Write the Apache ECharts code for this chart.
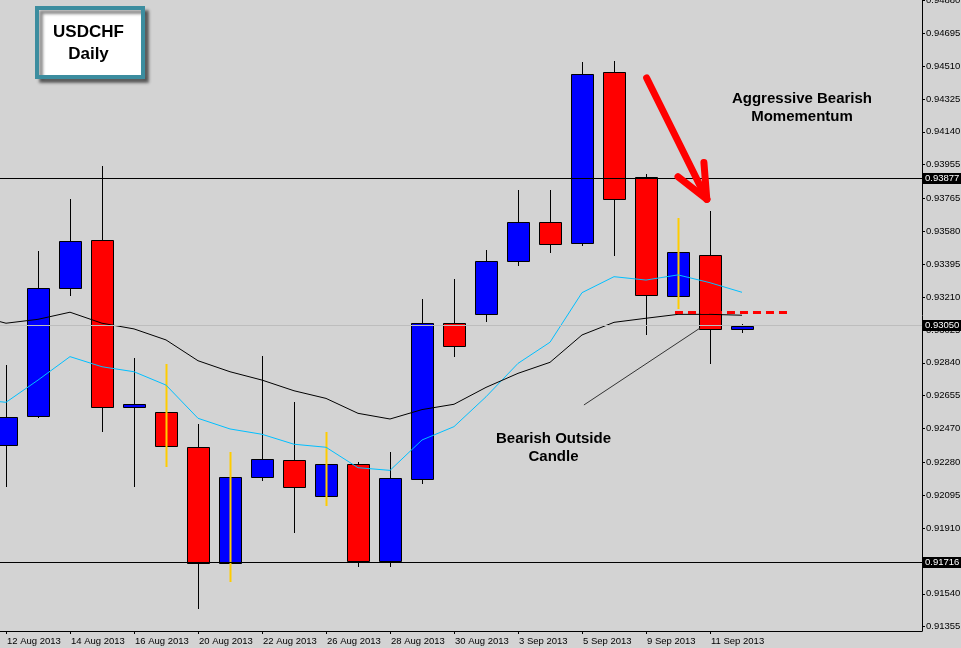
<!DOCTYPE html>
<html>
<head>
<meta charset="utf-8">
<script src="https://cdn.jsdelivr.net/npm/echarts@6/dist/echarts.min.js"></script>
<style>
html,body{margin:0;padding:0;background:#d3d3d3;}
#c{width:961px;height:648px;}
</style>
</head>
<body>
<div id="c"></div>
<script>
// ---- data (USDCHF daily) ----
const dates = ['9 Aug 2013','12 Aug 2013','13 Aug 2013','14 Aug 2013','15 Aug 2013','16 Aug 2013',
  '19 Aug 2013','20 Aug 2013','21 Aug 2013','22 Aug 2013','23 Aug 2013','26 Aug 2013','27 Aug 2013',
  '28 Aug 2013','29 Aug 2013','30 Aug 2013','2 Sep 2013','3 Sep 2013','4 Sep 2013','5 Sep 2013',
  '6 Sep 2013','9 Sep 2013','10 Sep 2013','11 Sep 2013','12 Sep 2013'];
const opens  = [null,0.92376,0.92539,0.93260,0.93530,0.92591,0.92562,0.92365,0.91712,0.92196,0.92291,0.92089,0.92269,
  0.91723,0.92184,0.93066,0.93113,0.93412,0.93631,0.93513,0.94475,0.93884,0.93218,0.93445,0.93029];
const closes = [null,0.92537,0.93260,0.93524,0.92590,0.92608,0.92370,0.91712,0.92196,0.92297,0.92139,0.92269,0.91723,
  0.92190,0.93066,0.92935,0.93412,0.93631,0.93507,0.94464,0.93761,0.93220,0.93462,0.93029,0.93050];
const highs  = [null,0.92828,0.93470,0.93762,0.93948,0.92866,0.92834,0.92496,0.92340,0.92879,0.92620,0.92452,0.92280,
  0.92336,0.93199,0.93312,0.93475,0.93813,0.93815,0.94532,0.94539,0.93901,0.93654,0.93695,0.93058];
const lows   = [null,0.92141,0.92530,0.93218,0.92452,0.92141,0.92255,0.91453,0.91605,0.92177,0.91881,0.92036,0.91689,
  0.91689,0.92156,0.92871,0.93072,0.93387,0.93460,0.93499,0.93443,0.92995,0.93141,0.92832,0.93010];
const slowMA = [0.93110,0.93063,0.93085,0.93125,0.93063,0.93031,0.92969,0.92852,0.92790,0.92743,0.92683,0.92640,0.92556,
  0.92524,0.92577,0.92607,0.92702,0.92781,0.92843,0.92997,0.93068,0.93091,0.93113,0.93113,0.93108];
const fastMA = [0.92636,0.92618,0.92743,0.92875,0.92818,0.92790,0.92715,0.92528,0.92468,0.92438,0.92382,0.92365,0.92250,
  0.92235,0.92406,0.92481,0.92649,0.92837,0.92956,0.93235,0.93325,0.93306,0.93335,0.93291,0.93237];
const yTickLabels = ['0.94880','0.94695','0.94510','0.94325','0.94140','0.93955','0.93765','0.93580','0.93395',
  '0.93210','0.93025','0.92840','0.92655','0.92470','0.92280','0.92095','0.91910','0.91725','0.91540','0.91355'];
const xLabelIndex = [1,3,5,7,9,11,13,15,17,19,21,23];
const levelLines = [0.93877, 0.91716];
const bidPrice = 0.93050;
// annotation anchors in (bar index, price)
const arrowShaft = [[21.02,0.94443],[22.90,0.93761]];
const arrowWingA = [[22.90,0.93761],[22.00,0.93888]];
const arrowWingB = [[22.90,0.93761],[22.81,0.93967]];
const dashedLevel = [[21.906,0.93125],[25.55,0.93125]];
const trendLine = [[19.06,0.92603],[22.69,0.93036]];
const noteMomentum = {x:25.875, y:0.94275, text:'Aggressive Bearish\nMomementum'};
const noteOutside = {x:18.11, y:0.92361, text:'Bearish Outside\nCandle'};

// ---- fonts ----
function hasFont(name) {
  const ctx = document.createElement('canvas').getContext('2d');
  const s = '0.94695 12 Aug 2013';
  ctx.font = '40px monospace';
  const a = ctx.measureText(s).width;
  ctx.font = '40px "' + name + '", monospace';
  return Math.abs(ctx.measureText(s).width - a) > 0.5;
}
const FONT = '"Liberation Sans", Arial, sans-serif';
const NARROW = hasFont('Liberation Sans Narrow');
const AXIS_FONT = NARROW ? '"Liberation Sans Narrow", "Liberation Sans", sans-serif' : FONT;
const AXIS_SIZE = NARROW ? 11 : 9.5;

// ---- build ----
const last = dates.length - 1;
const candles = [];
for (let k = 0; k < dates.length; k++) {
  if (opens[k] == null) continue;
  const inside = (k > 0 && k < last && highs[k-1] != null && highs[k] < highs[k-1] && lows[k] > lows[k-1]) ? 1 : 0;
  candles.push([k, opens[k], closes[k], lows[k], highs[k], inside]);
}

function renderCandle(params, api) {
  const i = api.value(0), o = api.value(1), c = api.value(2), lo = api.value(3), hi = api.value(4), inside = api.value(5);
  const pO = api.coord([i, o]), pC = api.coord([i, c]), pL = api.coord([i, lo]), pH = api.coord([i, hi]);
  const x = Math.round(pO[0]) + 0.5;
  const bw = Math.round(api.size([1, 0])[0] * 0.69);
  const top = Math.round(Math.min(pO[1], pC[1])) + 0.5;
  let bot = Math.round(Math.max(pO[1], pC[1])) + 0.5;
  if (bot - top < 2) bot = top + 2;
  const fill = c >= o ? '#0000ff' : '#ff0000';
  const children = [];
  if (!inside) children.push({type:'line', shape:{x1:x, y1:Math.round(pH[1]), x2:x, y2:Math.round(pL[1])}, style:{stroke:'#000', lineWidth:1}});
  children.push({type:'rect', shape:{x:x - bw/2, y:top, width:bw, height:bot-top}, style:{fill:fill, stroke:'#000', lineWidth:1}});
  if (inside) children.push({type:'line', shape:{x1:x, y1:Math.round(pH[1]), x2:x, y2:Math.round(pL[1])}, style:{stroke:'#ffcc00', lineWidth:2}});
  return {type:'group', children: children};
}

const boxLabel = {show:true, position:'end', distance:1, color:'#fff', backgroundColor:'#000',
  padding:[1,3,0,2], fontSize:AXIS_SIZE, fontFamily:AXIS_FONT};
const pair = (seg, style) => [{coord:seg[0], lineStyle:style, label:{show:false}}, {coord:seg[1]}];

const markLineData = [];
levelLines.forEach(v => markLineData.push({yAxis:v, lineStyle:{color:'#000', width:1, type:'solid'},
  label:Object.assign({formatter:v.toFixed(5)}, boxLabel)}));
markLineData.push(pair(dashedLevel, {color:'#ff0000', width:3, type:[8,5]}));
markLineData.push(pair(trendLine, {color:'#333', width:1, type:'solid'}));
markLineData.push(pair(arrowShaft, {color:'#ff0000', width:7, type:'solid', cap:'round'}));
markLineData.push(pair(arrowWingA, {color:'#ff0000', width:7, type:'solid', cap:'round'}));
markLineData.push(pair(arrowWingB, {color:'#ff0000', width:7, type:'solid', cap:'round'}));

const noteStyle = {show:true, position:'inside', color:'#000', fontSize:15, fontWeight:'bold', lineHeight:18,
  fontFamily:FONT, align:'center', formatter: p => p.name};

const chart = echarts.init(document.getElementById('c'), null, {renderer:'canvas'});
chart.setOption({
  animation:false,
  backgroundColor:'#d3d3d3',
  grid:{left:0, right:39, top:0, bottom:17, outerBoundsMode:'none'},
  xAxis:{
    type:'value', min:0.8125, max:29.625,
    axisLine:{show:true, onZero:false, lineStyle:{color:'#000', width:1}},
    axisTick:{show:true, customValues:xLabelIndex, length:3, lineStyle:{color:'#000'}},
    axisLabel:{customValues:xLabelIndex, formatter:v => dates[v], align:'left', margin:5,
      color:'#000', fontSize:AXIS_SIZE, fontFamily:AXIS_FONT, padding:[0,0,0,1]},
    splitLine:{show:false}
  },
  yAxis:{
    type:'value', position:'right', min:0.91331, max:0.94882,
    axisLine:{show:true, onZero:false, lineStyle:{color:'#000', width:1}},
    axisTick:{show:true, customValues:yTickLabels.map(Number), length:3, lineStyle:{color:'#000'}},
    axisLabel:{customValues:yTickLabels.map(Number), formatter:v => v.toFixed(5), margin:4,
      color:'#000', fontSize:AXIS_SIZE, fontFamily:AXIS_FONT},
    splitLine:{show:false}
  },
  series:[
    {type:'line', name:'Bid', data:[], z:1, symbol:'none',
      markLine:{silent:true, symbol:['none','none'], precision:5, animation:false,
        data:[{yAxis:bidPrice, lineStyle:{color:'#bdbdbd', width:1, type:'solid'},
          label:Object.assign({formatter:bidPrice.toFixed(5)}, boxLabel)}]}},
    {type:'custom', name:'USDCHF', renderItem:renderCandle, data:candles, clip:true, z:2,
      encode:{x:0, y:[1,2,3,4]}},
    {type:'line', name:'MA fast', data:fastMA.map((v,k)=>[k,v]), symbol:'none', showSymbol:false,
      lineStyle:{color:'#00bfff', width:1}, z:3, clip:true},
    {type:'line', name:'MA slow', data:slowMA.map((v,k)=>[k,v]), symbol:'none', showSymbol:false,
      lineStyle:{color:'#000', width:1}, z:4, clip:true,
      markLine:{silent:true, symbol:['none','none'], precision:5, animation:false, data:markLineData},
      markPoint:{silent:true, symbol:'rect', symbolSize:1, itemStyle:{color:'rgba(0,0,0,0)'},
        label:noteStyle,
        data:[{name:noteMomentum.text, coord:[noteMomentum.x, noteMomentum.y]},
              {name:noteOutside.text, coord:[noteOutside.x, noteOutside.y]}]}}
  ],
  graphic:[
    {type:'rect', z:100, shape:{x:37, y:8, width:106, height:69},
      style:{fill:'#fff', stroke:'#3c8d9f', lineWidth:4, shadowBlur:3, shadowOffsetX:4, shadowOffsetY:4,
        shadowColor:'rgba(0,0,0,0.45)'}},
    {type:'text', z:101, x:88.5, y:32, style:{text:'USDCHF', fontSize:17, fontWeight:'bold', fontFamily:FONT,
      fill:'#000', align:'center', verticalAlign:'middle'}},
    {type:'text', z:101, x:88.5, y:54, style:{text:'Daily', fontSize:17, fontWeight:'bold', fontFamily:FONT,
      fill:'#000', align:'center', verticalAlign:'middle'}}
  ]
});
</script>
</body>
</html>
